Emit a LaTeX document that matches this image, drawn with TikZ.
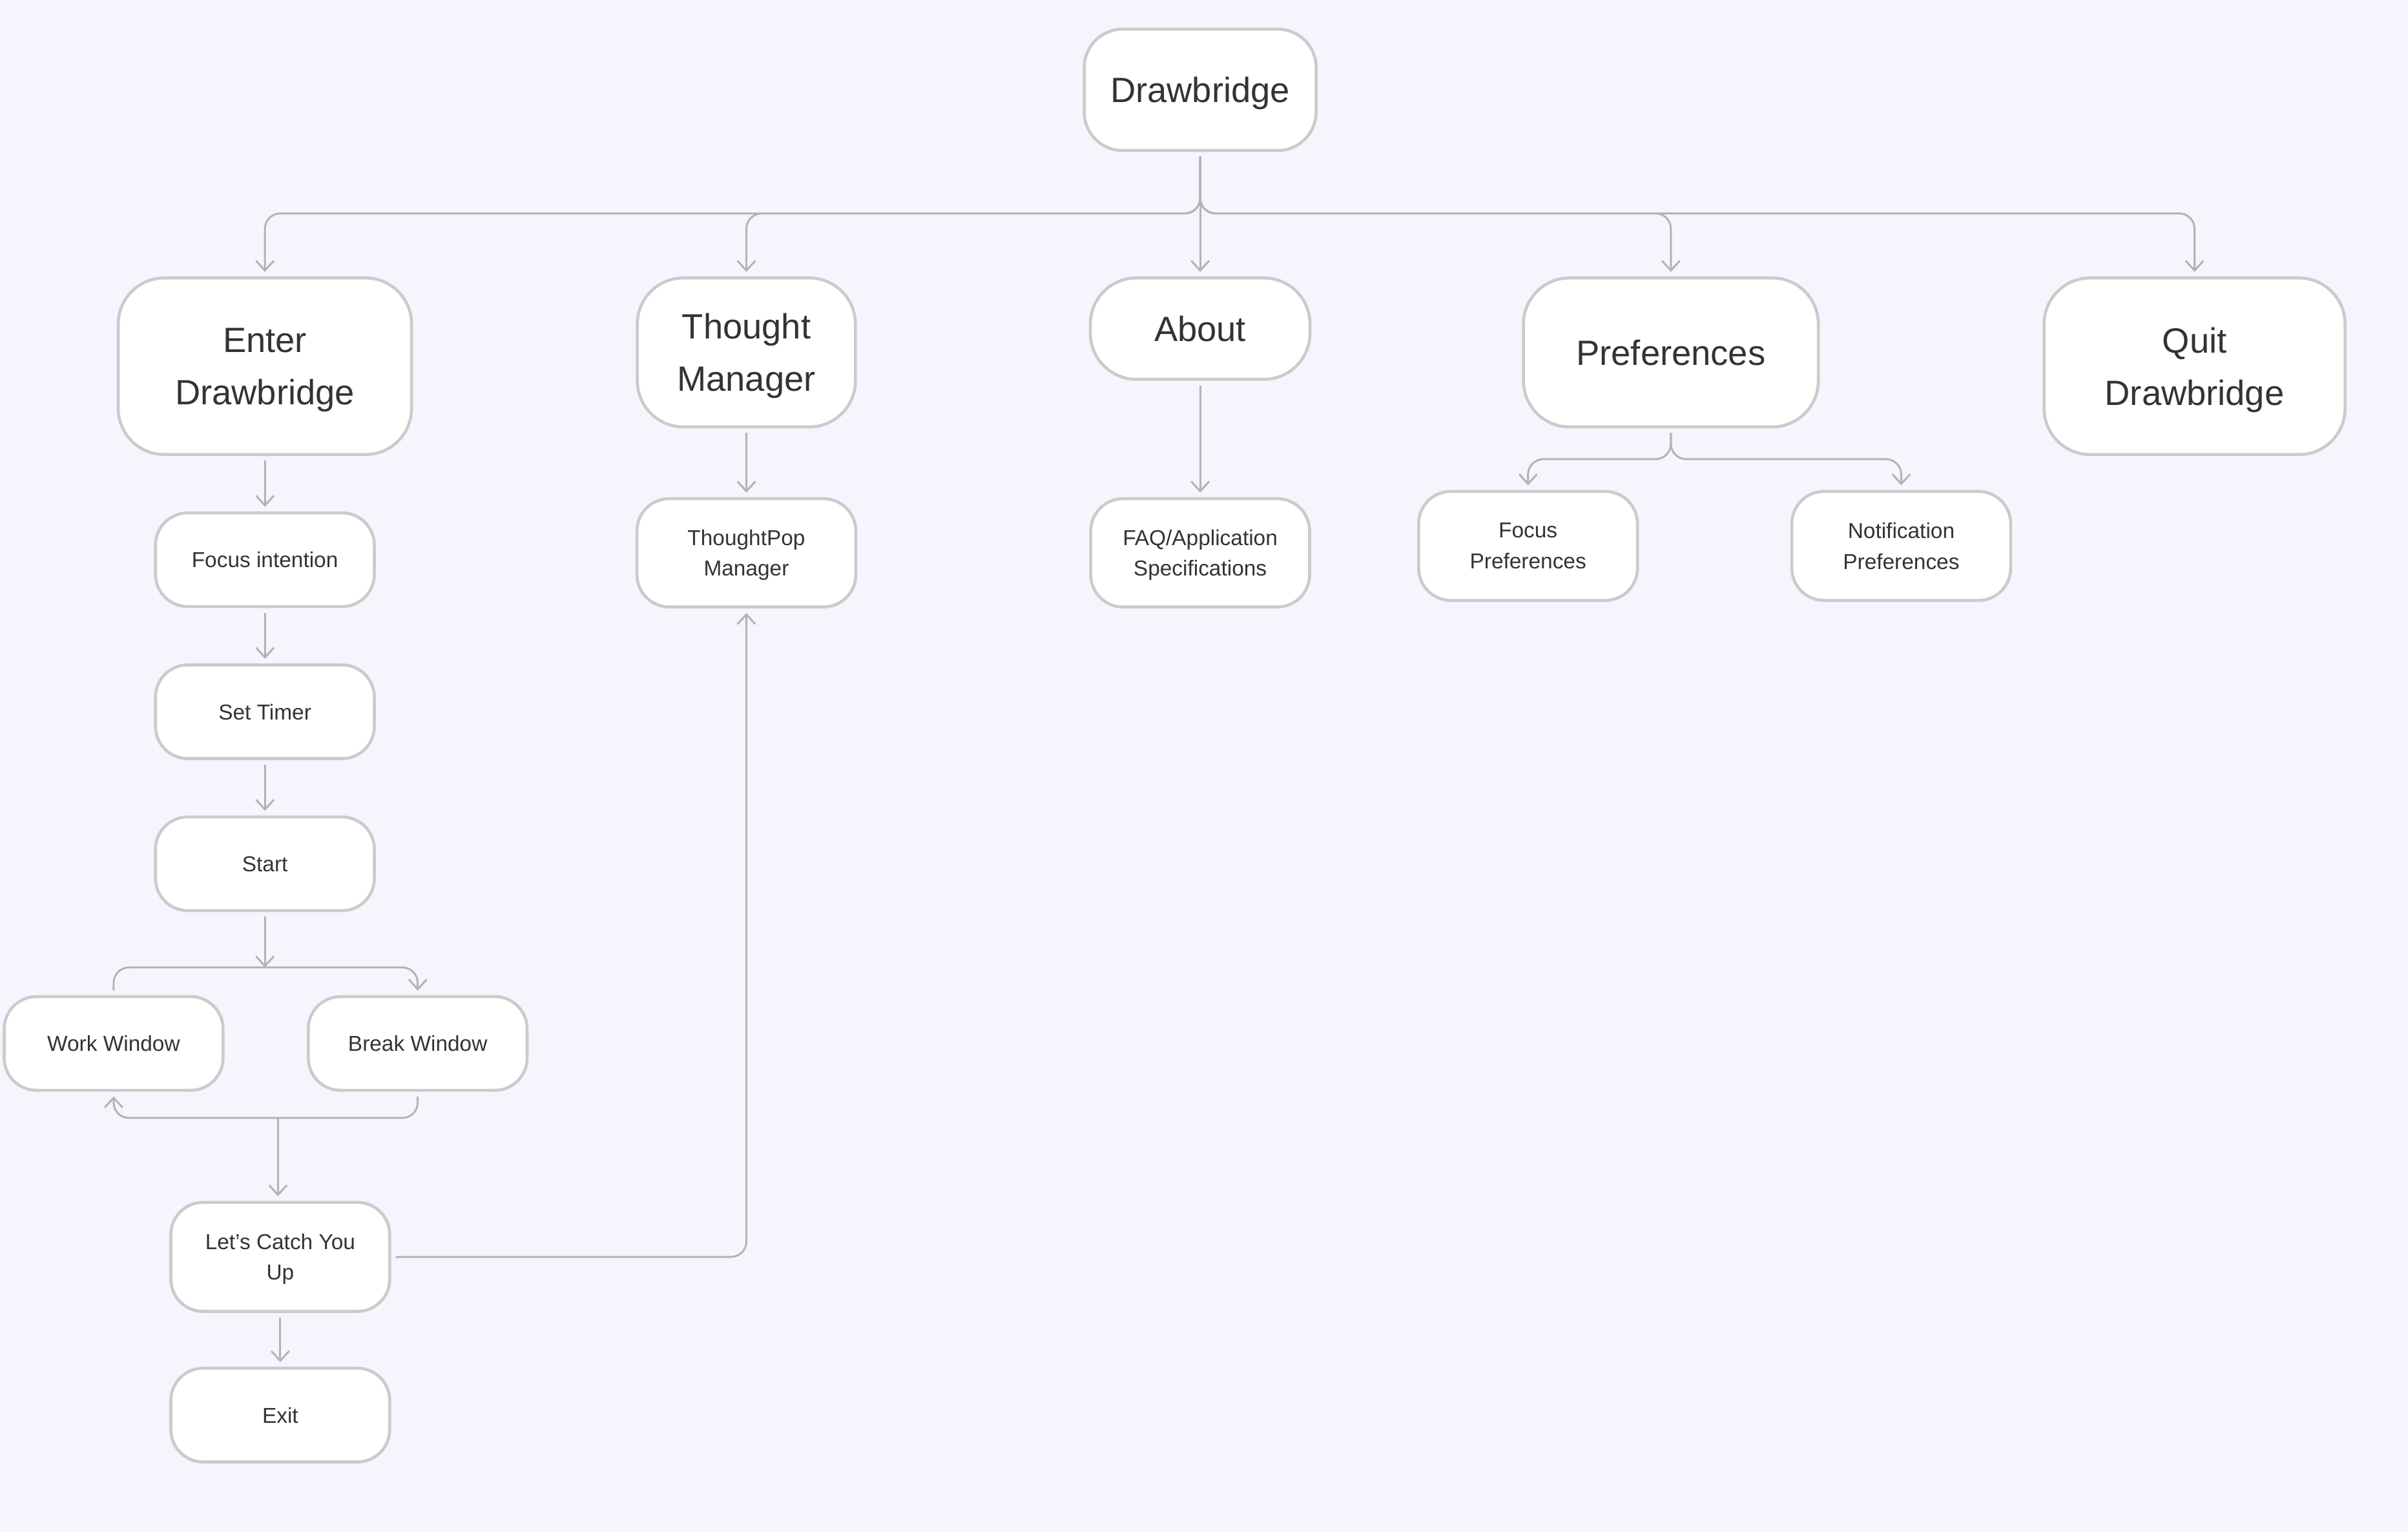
\documentclass[tikz,border=0pt]{standalone}
\usepackage{fontspec}
\setmainfont{Liberation Sans}
\usetikzlibrary{arrows.meta}

\definecolor{bg}{HTML}{F4F5FD}
\definecolor{boxline}{HTML}{CBCBCB}
\definecolor{wire}{HTML}{B3B3B3}
\definecolor{ink}{HTML}{333333}

\tikzset{
  box/.style={draw=boxline, fill=white, line width=1.1pt, align=center, text=ink, inner sep=0pt, text depth=0pt},
  bigbox/.style={box, rounded corners=0.6cm, font=\fontsize{13}{19.4}\selectfont},
  smallbox/.style={box, rounded corners=0.42cm, font=\fontsize{8}{11.4}\selectfont, minimum width=2.85cm, minimum height=1.22cm},
  link/.style={draw=wire, line width=0.7pt, rounded corners=0.2cm, -{Straight Barb[length=3.6pt,width=6.6pt]}, shorten >=0.06cm, shorten <=0.06cm},
}

\begin{document}
\begin{tikzpicture}
          \fill[bg] (0,0) rectangle (31.36,-19.953);

          % top level
          \node[bigbox, minimum width=3.02cm, minimum height=1.58cm, rounded corners=0.5cm] (drawbridge) at (15.63,-1.17) {Drawbridge};
          \node[bigbox, minimum width=3.82cm, minimum height=2.3cm] (enter) at (3.45,-4.77) {Enter\\Drawbridge};
          \node[bigbox, minimum width=2.84cm, minimum height=1.94cm] (thought) at (9.72,-4.59) {Thought\\Manager};
          \node[bigbox, minimum width=2.86cm, minimum height=1.32cm] (about) at (15.63,-4.28) {About};
          \node[bigbox, minimum width=3.84cm, minimum height=1.94cm] (prefs) at (21.76,-4.59) {Preferences};
          \node[bigbox, minimum width=3.92cm, minimum height=2.3cm] (quit) at (28.58,-4.77) {Quit\\Drawbridge};

          \draw[link] (drawbridge.south) -- (drawbridge.south |- 0,-2.78) -| (enter.north);
          \draw[link] (drawbridge.south) -- (drawbridge.south |- 0,-2.78) -| (thought.north);
          \draw[link] (drawbridge.south) -- (about.north);
          \draw[link] (drawbridge.south) -- (drawbridge.south |- 0,-2.78) -| (prefs.north);
          \draw[link] (drawbridge.south) -- (drawbridge.south |- 0,-2.78) -| (quit.north);

          % focus session
          \node[smallbox] (focus) at (3.45,-7.29) {Focus intention};
          \node[smallbox] (timer) at (3.45,-9.27) {Set Timer};
          \node[smallbox] (start) at (3.45,-11.25) {Start};
          \node[smallbox] (work) at (1.48,-13.59) {Work Window};
          \node[smallbox] (break) at (5.44,-13.59) {Break Window};
          \node[smallbox, minimum height=1.42cm] (catchup) at (3.65,-16.37) {Let’s Catch You\\Up};
          \node[smallbox] (exit) at (3.65,-18.43) {Exit};
          \coordinate (forkA) at (3.45,-12.6);
          \coordinate (joinB) at (3.62,-14.56);

          \draw[link] (enter) -- (focus);
          \draw[link] (focus) -- (timer);
          \draw[link] (timer) -- (start);
          \draw[link, shorten >=0pt] (start) -- (forkA);
          \draw[link] (work.north) -- (work.north |- forkA) -| (break.north);
          \draw[link] (break.south) -- (break.south |- joinB) -| (work.south);
          \draw[link, shorten <=0pt] (joinB) -- (joinB |- catchup.north);
          \draw[link] (catchup) -- (exit);

          % thoughts, about, preferences
          \node[smallbox, minimum height=1.41cm] (thoughtpop) at (9.72,-7.2) {ThoughtPop\\Manager};
          \node[smallbox, minimum height=1.41cm] (faq) at (15.63,-7.2) {FAQ/Application\\Specifications};
          \node[smallbox, minimum height=1.42cm] (focuspref) at (19.9,-7.11) {Focus\\Preferences};
          \node[smallbox, minimum height=1.42cm] (notifpref) at (24.76,-7.11) {Notification\\Preferences};

          \draw[link] (thought) -- (thoughtpop);
          \draw[link] (catchup.east) -| (thoughtpop.south);
          \draw[link] (about) -- (faq);
          \draw[link] (prefs.south) -- (prefs.south |- 0,-5.98) -| (focuspref.north);
          \draw[link] (prefs.south) -- (prefs.south |- 0,-5.98) -| (notifpref.north);
\end{tikzpicture}
\end{document}
